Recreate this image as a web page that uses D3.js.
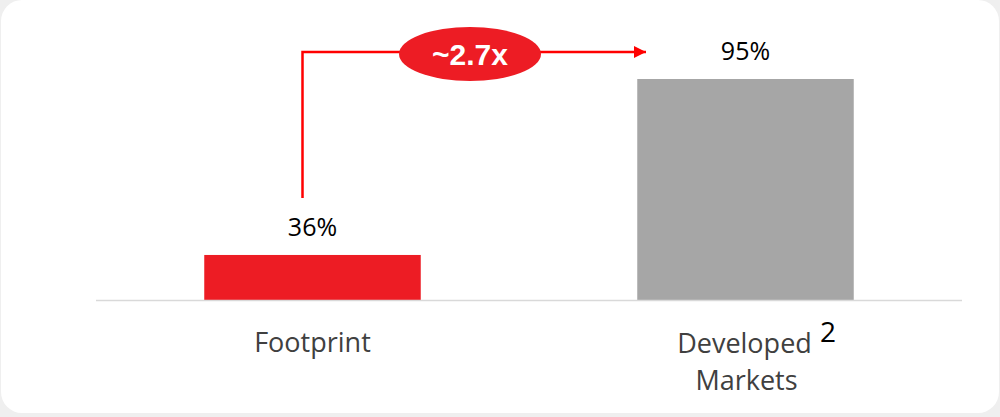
<!DOCTYPE html>
<html>
<head>
<meta charset="utf-8">
<script src="https://cdn.jsdelivr.net/npm/d3@7"></script>
<style>
  body { margin:0; background:#efefef; }
  svg { display:block; }
</style>
</head>
<body>
<div id="chart"></div>
<script>
var categories = ['Footprint', 'Developed Markets']
var values = [36, 95]
var valueLabels = ['36%', '95%']
var multipleLabel = '~2.7x'

var width = 1000, height = 417
var baseY = 300

var svg = d3.select('#chart').append('svg')
    .attr('width', width)
    .attr('height', height)

// card
svg.append('rect')
    .attr('x', 1).attr('y', 0)
    .attr('width', 998).attr('height', 413)
    .attr('rx', 21)
    .attr('fill', '#fff')

var x = d3.scaleBand()
    .domain(categories)
    .range([96, 962])
    .paddingInner(0.5)
    .paddingOuter(0.25)

// chart is drawn with a truncated axis
var y = d3.scaleLinear()
    .domain([20.9, 95])
    .range([baseY, 79])

svg.selectAll('rect.bar')
    .data(values)
    .enter()
    .append('rect')
        .attr('class', 'bar')
        .attr('x', function(d, i){ return x(categories[i]) })
        .attr('width', x.bandwidth())
        .attr('y', function(d){ return y(d) })
        .attr('height', function(d){ return baseY - y(d) })
        .attr('fill', function(d, i){ return i == 0 ? '#ed1c24' : '#a6a6a6' })

svg.append('line')
    .attr('x1', 96).attr('x2', 962)
    .attr('y1', baseY + 0.5).attr('y2', baseY + 0.5)
    .attr('stroke', '#d9d9d9')
    .attr('stroke-width', 1.5)

svg.selectAll('text.val')
    .data(values)
    .enter()
    .append('text')
        .attr('class', 'val')
        .attr('x', function(d, i){ return x(categories[i]) + x.bandwidth()/2 })
        .attr('y', function(d){ return y(d) - 19 })
        .attr('text-anchor', 'middle')
        .attr('font-family', 'Open Sans, sans-serif')
        .attr('font-size', '25px')
        .attr('fill', '#000')
        .text(function(d, i){ return valueLabels[i] })

// category labels
var c0 = x(categories[0]) + x.bandwidth()/2
var c1 = x(categories[1]) + x.bandwidth()/2
function catLabel(txt, cx, cy){
    svg.append('text')
        .attr('x', cx).attr('y', cy)
        .attr('text-anchor', 'middle')
        .attr('font-family', 'Open Sans, sans-serif')
        .attr('font-size', '27px')
        .attr('fill', '#404040')
        .text(txt)
}
catLabel('Footprint', c0, 352)
catLabel('Developed', c1 - 1, 353)
catLabel('Markets', c1 + 1, 390)
svg.append('text')
    .attr('x', 828).attr('y', 342)
    .attr('text-anchor', 'middle')
    .attr('font-family', 'Open Sans, sans-serif')
    .attr('font-size', '28px')
    .attr('fill', '#000')
    .text('2')

// arrow
var arrowY = 52
var defs = svg.append('defs')
defs.append('marker')
    .attr('id', 'head')
    .attr('viewBox', '0 0 10 10')
    .attr('refX', 10).attr('refY', 5)
    .attr('markerWidth', 16).attr('markerHeight', 12)
    .attr('markerUnits', 'userSpaceOnUse')
    .attr('orient', 'auto')
  .append('path')
    .attr('d', 'M0,0L10,5L0,10Z')
    .attr('fill', '#ff0000')

svg.append('path')
    .attr('d', 'M' + (c0 - 10) + ',' + (y(values[0]) - 57) + 'V' + arrowY + 'H' + 646)
    .attr('fill', 'none')
    .attr('stroke', '#ff0000')
    .attr('stroke-width', 2.5)
    .attr('marker-end', 'url(#head)')

svg.append('ellipse')
    .attr('cx', 470).attr('cy', 54)
    .attr('rx', 71).attr('ry', 27)
    .attr('fill', '#ed1c24')

svg.append('text')
    .attr('x', 470).attr('y', 65)
    .attr('text-anchor', 'middle')
    .attr('font-family', 'Liberation Sans, Arial, sans-serif')
    .attr('font-weight', 'bold')
    .attr('font-size', '30px')
    .attr('fill', '#fff')
    .text(multipleLabel)
</script>
</body>
</html>
